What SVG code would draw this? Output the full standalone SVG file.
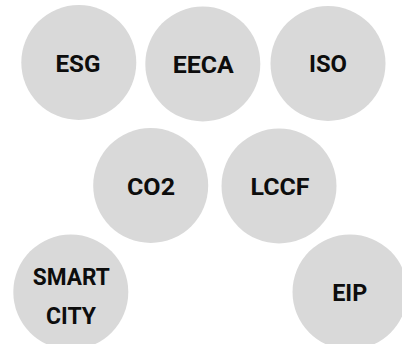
<svg xmlns="http://www.w3.org/2000/svg" width="402" height="344" viewBox="0 0 402 344">
<style>
.c{fill:#d9d9d9}
.t{font-family:"Roboto","Liberation Sans",sans-serif;font-weight:700;font-size:24px;fill:#0d0d0d;text-anchor:middle}
</style>
<rect width="402" height="344" fill="#fff"/>
<g id="connectors"/>
<g id="esg"><circle class="c" cx="78.8" cy="62.5" r="57.5"/><text class="t" x="78" y="71.5" textLength="45" lengthAdjust="spacingAndGlyphs">ESG</text></g>
<g id="eeca"><circle class="c" cx="202.8" cy="64" r="57.5"/><text class="t" x="203.3" y="73" textLength="61" lengthAdjust="spacingAndGlyphs">EECA</text></g>
<g id="iso"><circle class="c" cx="328" cy="63.5" r="57.5"/><text class="t" x="328" y="72.3" textLength="38" lengthAdjust="spacingAndGlyphs">ISO</text></g>
<g id="co2"><circle class="c" cx="150.7" cy="185.5" r="57.5"/><text class="t" x="151" y="194.7" textLength="48" lengthAdjust="spacingAndGlyphs">CO2</text></g>
<g id="lccf"><circle class="c" cx="279" cy="186" r="57.5"/><text class="t" x="280" y="195.3" textLength="59" lengthAdjust="spacingAndGlyphs">LCCF</text></g>
<g id="smart-city"><circle class="c" cx="70.8" cy="292" r="57.5"/><text class="t" x="71.3" y="285.3" textLength="77" lengthAdjust="spacingAndGlyphs">SMART</text><text class="t" x="71" y="323.7" textLength="50" lengthAdjust="spacingAndGlyphs">CITY</text></g>
<g id="eip"><circle class="c" cx="350" cy="292" r="57.5"/><text class="t" x="349.7" y="301" textLength="35" lengthAdjust="spacingAndGlyphs">EIP</text></g>
</svg>
